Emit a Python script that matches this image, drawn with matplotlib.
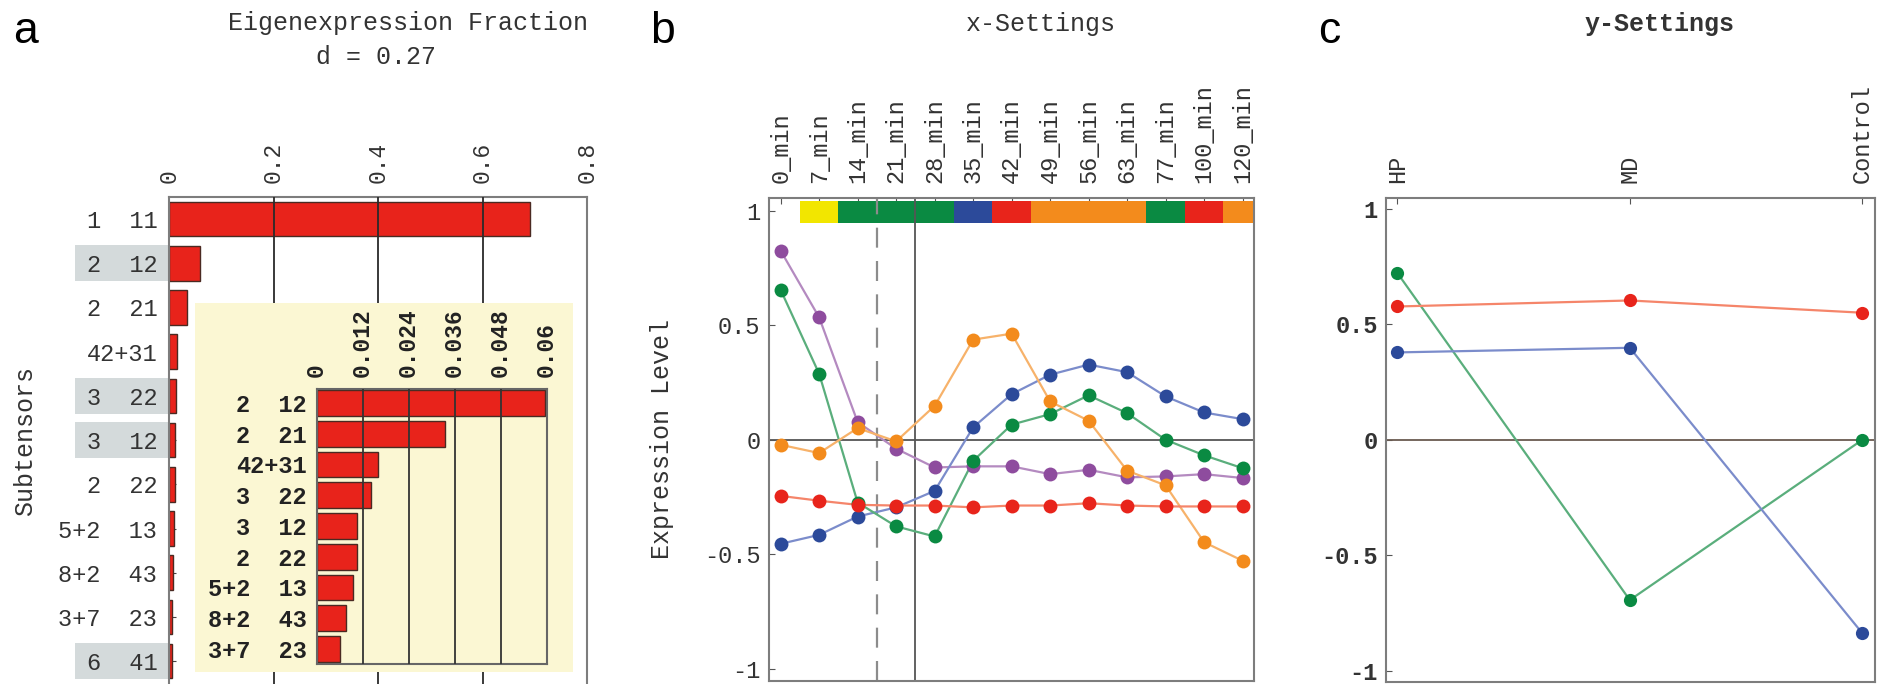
import matplotlib
matplotlib.use("Agg")
import matplotlib.pyplot as plt
import matplotlib.transforms as mtransforms
from matplotlib.patches import Rectangle

# ---------------- data ----------------
subtensor_labels = ["1  11", "2  12", "2  21", "42+31", "3  22", "3  12",
                    "2  22", "5+2  13", "8+2  43", "3+7  23", "6  41"]
eigen_fraction = [0.691, 0.0595, 0.0335, 0.0161, 0.0142, 0.0106,
                  0.0106, 0.0094, 0.0076, 0.0061, 0.005]
highlighted_rows = [1, 4, 5, 10]
main_ticks = [0, 0.2, 0.4, 0.6, 0.8]
main_ticklabels = ["0", "0.2", "0.4", "0.6", "0.8"]

inset_labels = subtensor_labels[1:10]
inset_fraction = eigen_fraction[1:10]
inset_ticks = [0, 0.012, 0.024, 0.036, 0.048, 0.06]
inset_ticklabels = ["0", "0.012", "0.024", "0.036", "0.048", "0.06"]

time_labels = ["0_min", "7_min", "14_min", "21_min", "28_min", "35_min", "42_min",
               "49_min", "56_min", "63_min", "77_min", "100_min", "120_min"]
stage = ["", "yellow", "green", "green", "green", "blue", "red",
         "orange", "orange", "orange", "green", "red", "orange"]

purple_b = [0.825, 0.534, 0.077, -0.039, -0.121, -0.116, -0.116, -0.150, -0.131,
            -0.164, -0.160, -0.150, -0.167]
blue_b = [-0.454, -0.415, -0.335, -0.295, -0.223, 0.054, 0.199, 0.284, 0.328,
          0.295, 0.189, 0.119, 0.090]
green_b = [0.654, 0.288, -0.274, -0.378, -0.422, -0.092, 0.066, 0.112, 0.194,
           0.116, 0.0, -0.068, -0.124]
orange_b = [-0.022, -0.058, 0.051, -0.007, 0.148, 0.437, 0.463, 0.167, 0.083,
            -0.135, -0.199, -0.447, -0.528]
red_b = [-0.245, -0.266, -0.284, -0.287, -0.287, -0.295, -0.287, -0.287, -0.277,
         -0.287, -0.291, -0.291, -0.291]

condition_labels = ["HP", "MD", "Control"]
green_c = [0.723, -0.694, 0.0]
red_c = [0.578, 0.604, 0.551]
blue_c = [0.379, 0.399, -0.837]

expr_ticks = [-1, -0.5, 0, 0.5, 1]
expr_ticklabels = ["-1", "-0.5", "0", "0.5", "1"]

# ---------------- style ----------------
W, H, DPI = 1885, 684, 100
MONO = "Liberation Mono"
SANS = "Liberation Sans"
TXT = "#333333"
SPINE = "#7d7d7d"
COL = {"purple": "#8E4C9E", "blue": "#2C4A9A", "green": "#0A8A42",
       "orange": "#F38B1C", "red": "#E8241B", "yellow": "#F2E600"}
LINE = {"purple": "#B48AC0", "blue": "#7B8CCB", "green": "#5AAE7C",
        "orange": "#F7B26A", "red": "#F5856A"}
BAR = "#E8231B"

plt.rcParams["axes.unicode_minus"] = False
fig = plt.figure(figsize=(W / DPI, H / DPI), dpi=DPI)
fig.patch.set_facecolor("white")


def rect(left, top, right, bottom):
    return [left / W, 1 - bottom / H, (right - left) / W, (bottom - top) / H]


def style_spines(ax, color=SPINE, lw=1.5):
    for s in ax.spines.values():
        s.set_color(color)
        s.set_linewidth(lw)


# ---------------- panel a ----------------
row_px = 44.2
ax_a = fig.add_axes(rect(169, 197, 587, 197 + 11.1 * row_px))
n = len(subtensor_labels)
ax_a.barh(range(n), eigen_fraction, height=0.78, color=BAR,
          edgecolor="#4a2a22", linewidth=1.0, zorder=2)
ax_a.set_xlim(0, 0.8)
ax_a.set_ylim(10.6, -0.5)
for v in main_ticks[1:-1]:
    ax_a.axvline(v, color="#2a2a2a", lw=1.3, zorder=3)
ax_a.xaxis.tick_top()
ax_a.set_xticks(main_ticks)
ax_a.set_xticklabels(main_ticklabels, rotation=90, family=MONO, fontsize=16.5, color=TXT)
ax_a.set_yticks(range(n))
ax_a.set_yticklabels(subtensor_labels, family=MONO, fontsize=17, color=TXT)
ax_a.tick_params(axis="x", direction="in", length=0, pad=10)
ax_a.tick_params(axis="y", direction="in", length=5, pad=8.5, color="#444444")
style_spines(ax_a)
ax_a.spines["bottom"].set_visible(False)
trans = mtransforms.blended_transform_factory(ax_a.transAxes, ax_a.transData)
for i in highlighted_rows:
    ax_a.add_patch(Rectangle((-0.2249, i - 0.41), 0.2225, 0.82, transform=trans,
                             facecolor="#D4DADB", edgecolor="none",
                             clip_on=False, zorder=0))

# inset background
bg = fig.add_axes(rect(195, 303, 573, 672))
bg.set_facecolor("#FBF7D3")
bg.set_xticks([])
bg.set_yticks([])
for s in bg.spines.values():
    s.set_visible(False)

ax_i = fig.add_axes(rect(316.7, 389, 546.7, 664))
ax_i.set_facecolor("none")
m = len(inset_labels)
ax_i.barh(range(m), inset_fraction, height=0.84, color=BAR,
          edgecolor="#4a2a22", linewidth=1.0, zorder=2)
ax_i.set_xlim(0, 0.06)
ax_i.set_ylim(8.49, -0.455)
for v in inset_ticks[1:-1]:
    ax_i.axvline(v, color="#333333", lw=1.3, zorder=3)
ax_i.xaxis.tick_top()
ax_i.set_xticks(inset_ticks)
ax_i.set_xticklabels(inset_ticklabels, rotation=90, family=MONO, fontsize=16.5,
                     fontweight="bold", color="#222222")
ax_i.set_yticks(range(m))
ax_i.set_yticklabels(inset_labels, family=MONO, fontsize=17, fontweight="bold",
                     color="#222222")
ax_i.tick_params(axis="x", direction="in", length=0, pad=8.5)
ax_i.tick_params(axis="y", direction="in", length=4, pad=7, color="#444444")
style_spines(ax_i, color="#666666", lw=1.5)

fig.text(408 / W, 1 - 23 / H, "Eigenexpression Fraction", family=MONO, fontsize=18,
         color=TXT, ha="center", va="center")
fig.text(376 / W, 1 - 57 / H, "d = 0.27", family=MONO, fontsize=18,
         color=TXT, ha="center", va="center")
fig.text(25 / W, 1 - 441 / H, "Subtensors", family=MONO, fontsize=18, color=TXT,
         rotation=90, ha="center", va="center")

# ---------------- panel b ----------------
ax_b = fig.add_axes(rect(769.3, 198, 1254, 681.3))
ax_b.set_xlim(-0.295, 12.295)
ax_b.set_ylim(-1.054, 1.055)
xs = list(range(len(time_labels)))
for i, s in enumerate(stage):
    if s:
        ax_b.bar(i, 0.096, bottom=0.945, width=1.0, color=COL[s], lw=0, zorder=2)
ax_b.axvline(2.5, color="#8c8c8c", lw=1.6, dashes=(9, 6), zorder=2.5)
ax_b.axvline(3.5, color="#555555", lw=1.3, zorder=2.5)
ax_b.axhline(0, color="#555555", lw=1.3, zorder=2.5)
series_b = [(purple_b, "purple"), (blue_b, "blue"), (green_b, "green"),
            (orange_b, "orange"), (red_b, "red")]
for vals, c in series_b:
    ax_b.plot(xs, vals, color=LINE[c], lw=1.6, zorder=3)
for vals, c in series_b:
    ax_b.plot(xs, vals, "o", color=COL[c], ms=10, mec="none", zorder=4)
ax_b.xaxis.tick_top()
ax_b.set_xticks(xs)
ax_b.set_xticklabels(time_labels, rotation=90, family=MONO, fontsize=17, color=TXT)
ax_b.set_yticks(expr_ticks)
ax_b.set_yticklabels(expr_ticklabels, family=MONO, fontsize=17, color=TXT)
ax_b.tick_params(axis="x", direction="in", length=4, pad=11, color="#555555")
ax_b.tick_params(axis="y", direction="in", length=4, pad=6.5, color="#555555")
style_spines(ax_b)
fig.text(1041 / W, 1 - 24 / H, "x-Settings", family=MONO, fontsize=18,
         color=TXT, ha="center", va="center")
fig.text(661.7 / W, 1 - 439 / H, "Expression Level", family=MONO, fontsize=18,
         color=TXT, rotation=90, ha="center", va="center")

# ---------------- panel c ----------------
ax_c = fig.add_axes(rect(1386, 198, 1875, 682))
ax_c.set_xlim(-0.049, 2.055)
ax_c.set_ylim(-1.049, 1.048)
xc = list(range(len(condition_labels)))
ax_c.axhline(0, color="#6a5a50", lw=1.3, zorder=2.5)
series_c = [(green_c, "green"), (red_c, "red"), (blue_c, "blue")]
for vals, c in series_c:
    ax_c.plot(xc, vals, color=LINE[c], lw=1.6, zorder=3)
for vals, c in series_c:
    ax_c.plot(xc, vals, "o", color=COL[c], ms=9.5, mec="none", zorder=4)
ax_c.xaxis.tick_top()
ax_c.set_xticks(xc)
ax_c.set_xticklabels(condition_labels, rotation=90, family=MONO, fontsize=17, color=TXT)
ax_c.set_yticks(expr_ticks)
ax_c.set_yticklabels(expr_ticklabels, family=MONO, fontsize=17, fontweight="bold",
                     color=TXT)
ax_c.tick_params(axis="x", direction="in", length=4, pad=11, color="#555555")
ax_c.tick_params(axis="y", direction="in", length=4, pad=6, color="#555555")
style_spines(ax_c)
fig.text(1660 / W, 1 - 24 / H, "y-Settings", family=MONO, fontsize=18,
         fontweight="bold", color=TXT, ha="center", va="center")

# panel letters
for x, letter in [(13, "a"), (650, "b"), (1318, "c")]:
    fig.text(x / W, 1 - 43 / H, letter, family=SANS, fontsize=32, color="black",
             ha="left", va="baseline")

fig.savefig("out.png", dpi=DPI, facecolor="white")
